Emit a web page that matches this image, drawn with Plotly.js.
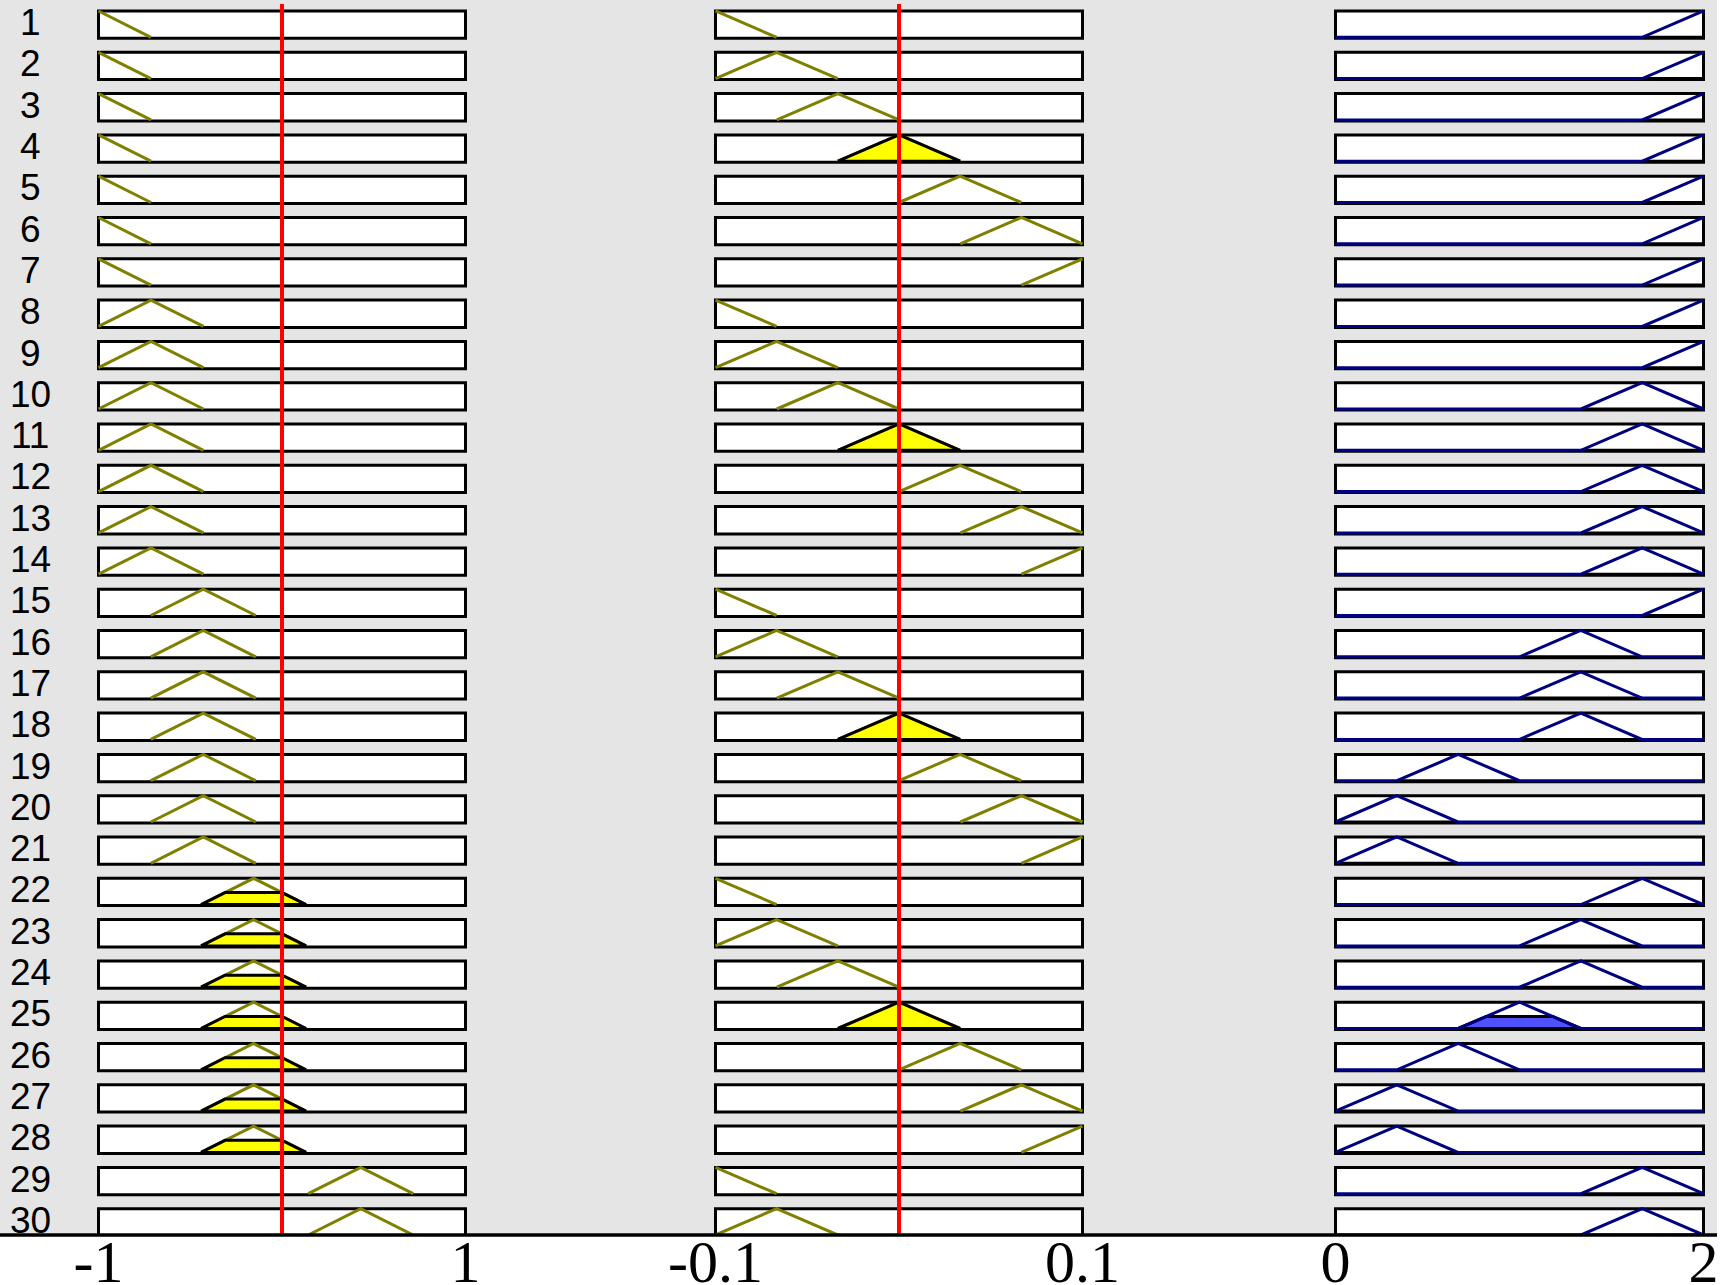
<!DOCTYPE html>
<html><head><meta charset="utf-8">
<script src="https://cdn.plot.ly/plotly-3.0.1.min.js"></script>
<style>html,body{margin:0;padding:0;background:#fff;}#chart{width:1717px;height:1285px;}</style>
</head><body><div id="chart"></div>
<script>
// ---------- data ----------
const ruleNumbers = [1,2,3,4,5,6,7,8,9,10,11,12,13,14,15,16,17,18,19,20,21,22,23,24,25,26,27,28,29,30];
const input1Range = [-1, 1];
const input2Range = [-0.1, 0.1];
const outputRange = [0, 2];
const input1Peaks = [-1, -0.714, -0.429, -0.155, 0.143, 0.429, 0.714, 1];
const input1HalfWidth = 0.286;
const input2Peaks = [-0.1, -0.0667, -0.0333, 0, 0.0333, 0.0667, 0.1];
const input2HalfWidth = 0.0333;
const outputPeaks = [0, 0.333, 0.667, 1, 1.333, 1.667, 2];
const outputHalfWidth = 0.333;
const ruleInput1MF = [1,1,1,1,1,1,1, 2,2,2,2,2,2,2, 3,3,3,3,3,3,3, 4,4,4,4,4,4,4, 6,6];
const ruleInput2MF = [1,2,3,4,5,6,7, 1,2,3,4,5,6,7, 1,2,3,4,5,6,7, 1,2,3,4,5,6,7, 1,2];
const ruleOutputMF = [7,7,7,7,7,7,7,7,7, 6,6,6,6,6, 7, 5,5,5, 3, 2,2, 6, 5,5, 4, 3, 2,2, 6,6];
const input1Value = 0;
const input2Value = 0;
const input1TickText = ['-1', '1'];
const input2TickText = ['-0.1', '0.1'];
const outputTickText = ['0', '2'];

// ---------- layout constants ----------
const W = 1717, PH = 1235, HGT = 1285;
const H = 0.637;          // MF height inside a row (row units)
const BOX_BOTTOM = 0.024; // box below MF zero
const PX_PER_ROW = 41.3;
const yMax = PH / PX_PER_ROW;

function trimf(x, a, b, c) {
  const l = b > a ? (x - a) / (b - a) : (x >= b ? 1 : 0);
  const r = c > b ? (c - x) / (c - b) : (x <= b ? 1 : 0);
  return Math.max(0, Math.min(l, r, 1));
}
function clipX(pts, lo, hi) {
  const out = [];
  for (let i = 0; i < pts.length; i++) {
    const p = pts[i];
    if (i > 0) {
      const q = pts[i - 1];
      if (q[0] < lo && p[0] > lo) out.push([lo, q[1] + (p[1] - q[1]) * (lo - q[0]) / (p[0] - q[0])]);
      if (q[0] < hi && p[0] > hi) out.push([hi, q[1] + (p[1] - q[1]) * (hi - q[0]) / (p[0] - q[0])]);
    }
    if (p[0] >= lo && p[0] <= hi) out.push(p);
  }
  return out;
}
const nR = ruleNumbers.length;
function rowBase(i) { return nR - 1 - i; }

function addPts(obj, pts, base) {
  pts.forEach(p => { obj.x.push(p[0]); obj.y.push(base + p[1] * H); });
  obj.x.push(null); obj.y.push(null);
}

const traces = [];
const shapes = [];
const annotations = [];

// grey background
shapes.push({type:'rect', xref:'paper', yref:'paper', x0:0, x1:1, y0:0, y1:1,
  fillcolor:'#e5e5e5', line:{width:0}, layer:'below'});

const cols = [
  {xa:'x',  ax:'xaxis',  range:input1Range, peaks:input1Peaks, hw:input1HalfWidth, mf:ruleInput1MF, ticks:input1TickText, px:[98.5, 465.5]},
  {xa:'x2', ax:'xaxis2', range:input2Range, peaks:input2Peaks, hw:input2HalfWidth, mf:ruleInput2MF, ticks:input2TickText, px:[715.5, 1082.5]},
  {xa:'x3', ax:'xaxis3', range:outputRange, peaks:outputPeaks, hw:outputHalfWidth, mf:ruleOutputMF, ticks:outputTickText, px:[1335.5, 1703.5]}
];

// memberships
const mu1 = ruleNumbers.map((r, i) => { const b = input1Peaks[ruleInput1MF[i]-1]; return trimf(input1Value, b - input1HalfWidth, b, b + input1HalfWidth); });
const mu2 = ruleNumbers.map((r, i) => { const b = input2Peaks[ruleInput2MF[i]-1]; return trimf(input2Value, b - input2HalfWidth, b, b + input2HalfWidth); });
const fire = mu1.map((m, i) => Math.min(m, mu2[i]));

const layout = {
  width: W, height: HGT, margin:{l:0, r:0, t:0, b:HGT-PH, pad:0},
  paper_bgcolor:'#ffffff', plot_bgcolor:'rgba(0,0,0,0)', showlegend:false,
  yaxis:{domain:[0,1], range:[0, yMax], visible:false, fixedrange:true, anchor:'x'},
  shapes: shapes, annotations: annotations
};

cols.forEach((c, ci) => {
  const lo = c.range[0], hi = c.range[1];
  const ppu = (c.px[1] - c.px[0]) / (hi - lo);
  const pad = 6 / ppu;
  layout[c.ax] = {
    domain:[(c.px[0] - 6) / W, (c.px[1] + 6) / W], range:[lo - pad, hi + pad], anchor:'y',
    showgrid:false, zeroline:false, showline:false, ticks:'', ticklen:0, fixedrange:true,
    tickmode:'array', tickvals:[lo, hi], ticktext:c.ticks, ticklabelstandoff:-14,
    ticklabeloverflow:'allow',
    tickfont:{family:'Liberation Serif, Times New Roman, serif', size:60, color:'#000'}
  };
  // boxes
  ruleNumbers.forEach((r, i) => {
    const b = rowBase(i);
    shapes.push({type:'rect', xref:c.xa, yref:'y', x0:lo, x1:hi, y0:b - BOX_BOTTOM, y1:b + H,
      fillcolor:'#ffffff', line:{color:'#000', width:3}, layer:'below'});
  });
  const isOut = ci === 2;
  const line = {x:[], y:[]}, base0 = {x:[], y:[]}, fill = {x:[], y:[]};
  ruleNumbers.forEach((r, i) => {
    const b = rowBase(i);
    const pk = c.peaks[c.mf[i]-1];
    const a = pk - c.hw, cc = pk + c.hw;
    if (!isOut) {
      addPts(line, clipX([[a,0],[pk,1],[cc,0]], lo, hi), b);
      const m = ci === 0 ? mu1[i] : mu2[i];
      if (m > 0) addPts(fill, [[a,0],[a + m*(pk-a), m],[cc - m*(cc-pk), m],[cc,0],[a,0]], b);
    } else {
      addPts(line, clipX([[Math.min(lo,a),0],[a,0],[pk,1],[cc,0],[Math.max(hi,cc),0]], lo, hi), b);
      addPts(base0, [[Math.max(a,lo),0],[Math.min(cc,hi),0]], b);
      const m = fire[i];
      if (m > 0) addPts(fill, [[a,0],[a + m*(pk-a), m],[cc - m*(cc-pk), m],[cc,0],[a,0]], b);
    }
  });
  const mfColor = isOut ? '#000080' : '#808000';
  const fillColor = isOut ? '#5050ff' : '#ffff00';
  const lineTrace = {type:'scatter', mode:'lines', xaxis:c.xa, yaxis:'y', x:line.x, y:line.y,
    line:{color:mfColor, width:3}, hoverinfo:'skip', connectgaps:false};
  const fillTrace = {type:'scatter', mode:'lines', xaxis:c.xa, yaxis:'y', x:fill.x, y:fill.y,
    fill:'toself', fillcolor:fillColor, line:{color:'#000', width:3}, hoverinfo:'skip', connectgaps:false};
  if (isOut) {
    traces.push({type:'scatter', mode:'lines', xaxis:c.xa, yaxis:'y', x:base0.x, y:base0.y,
      line:{color:'#000', width:3}, hoverinfo:'skip'});
    traces.push(fillTrace);
    traces.push(lineTrace);
  } else {
    traces.push(lineTrace);
    traces.push(fillTrace);
  }
});

// red input lines
[[ 'x', input1Value ], [ 'x2', input2Value ]].forEach(([xa, v]) => {
  shapes.push({type:'line', xref:xa, yref:'paper', x0:v, x1:v, y0:0, y1:1 - 4/PH,
    line:{color:'#ff0000', width:4}, layer:'above'});
});
// bottom axis line
shapes.push({type:'line', xref:'paper', yref:'paper', x0:0, x1:1, y0:0, y1:0,
  line:{color:'#000', width:3.5}, layer:'above'});

// rule numbers
ruleNumbers.forEach((r, i) => {
  annotations.push({xref:'paper', yref:'y', x:30 / W, y:rowBase(i) + 0.355, text:String(r),
    showarrow:false, xanchor:'center', yanchor:'middle',
    font:{family:'Liberation Sans Narrow, Liberation Sans, Arial, sans-serif', size:37, color:'#000'}});
});

Plotly.newPlot('chart', traces, layout, {displayModeBar:false, staticPlot:true});
</script></body></html>
